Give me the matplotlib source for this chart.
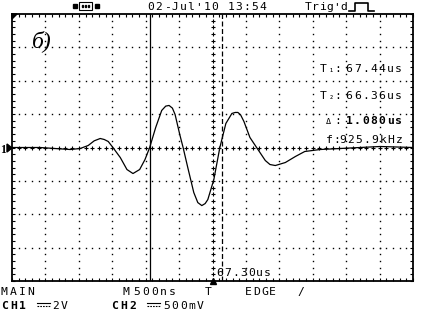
import matplotlib

matplotlib.use("Agg")
import matplotlib.pyplot as plt
import numpy as np
from matplotlib.lines import Line2D
from matplotlib.patches import Polygon, Rectangle

W, H = 427, 313

# scope settings
t_center = 67.30      # us, trigger position (centre of screen)
t_div = 0.5           # us / div  (M 500ns)
v_div = 2.0           # V / div   (CH1 2V)
n_xdiv, n_ydiv = 12, 8

cursor_t1 = 67.44
cursor_t2 = 66.36

# CH1 trace
t_us = [64.30, 64.72, 64.94, 65.17, 65.32, 65.44, 65.53, 65.62, 65.68, 65.74,
        65.81, 65.92, 66.02, 66.11, 66.21, 66.29, 66.36, 66.45, 66.54, 66.60,
        66.65, 66.70, 66.74, 66.81, 66.86, 66.93, 67.02, 67.08, 67.14, 67.19,
        67.23, 67.32, 67.41, 67.50, 67.59, 67.64, 67.68, 67.72, 67.77, 67.86,
        67.98, 68.09, 68.16, 68.24, 68.39, 68.54, 68.68, 68.91, 69.21, 69.51,
        69.81, 70.30]
ch1_v = [0.00, 0.00, -0.06, -0.12, -0.06, 0.12, 0.40, 0.54, 0.48, 0.36,
         0.00, -0.60, -1.32, -1.56, -1.32, -0.72, 0.00, 1.20, 2.22, 2.48,
         2.52, 2.36, 1.98, 0.78, 0.00, -1.20, -2.70, -3.30, -3.48, -3.36,
         -3.12, -1.92, 0.00, 1.44, 2.04, 2.10, 2.10, 1.96, 1.56, 0.60,
         -0.12, -0.78, -1.02, -1.08, -0.90, -0.54, -0.24, -0.12, -0.06, 0.00,
         0.06, 0.00]

MONO = ["DejaVu Sans Mono", "DejaVu Sans"]
FS = 8.2

fig = plt.figure(figsize=(W / 100, H / 100), dpi=100)
fig.patch.set_facecolor("white")


def fx(x):
    return x / W


def fy(y):
    return 1 - y / H


def mono(x, base, s, pitch=8.0, size=FS, weight="normal"):
    # bitmap-like fixed pitch text, one cell per character
    for i, ch in enumerate(s):
        fig.text(fx(x + i * pitch + pitch / 2), fy(base), ch, ha="center",
                 va="baseline", fontsize=size, family=MONO, weight=weight)


def px_line(xs, ys, **kw):
    fig.add_artist(Line2D([fx(v) for v in xs], [fy(v) for v in ys],
                          transform=fig.transFigure, color="black", **kw))


def px_poly(pts, **kw):
    fig.add_artist(Polygon([(fx(a), fy(b)) for a, b in pts], closed=True,
                           transform=fig.transFigure, **kw))


# screen
sx0, sx1, sy0, sy1 = 12, 413, 14, 281
ax = fig.add_axes([fx(sx0), fy(sy1), (sx1 - sx0) / W, (sy1 - sy0) / H])
tmin = t_center - n_xdiv / 2 * t_div
tmax = t_center + n_xdiv / 2 * t_div
vmax = n_ydiv / 2 * v_div
ax.set_xlim(tmin, tmax)
ax.set_ylim(-vmax, vmax)
for sp in ax.spines.values():
    sp.set_linewidth(1.3)

# small ticks along the border every 1/5 div
ax.set_xticks(np.linspace(tmin, tmax, n_xdiv * 5 + 1))
ax.set_yticks(np.linspace(-vmax, vmax, n_ydiv * 5 + 1))
ax.tick_params(direction="in", length=2, width=0.8, top=True, right=True,
               labelbottom=False, labelleft=False)

# dotted graticule
sub_t = np.linspace(tmin, tmax, n_xdiv * 5 + 1)[1:-1]
sub_v = np.linspace(-vmax, vmax, n_ydiv * 5 + 1)[1:-1]
for k in range(1, n_xdiv):
    if k == n_xdiv // 2:
        continue
    t = tmin + k * t_div
    ax.plot(np.full(len(sub_v), t), sub_v, ls="none", marker="s", ms=1.0,
            mew=0, color="black")
for k in range(1, n_ydiv):
    if k == n_ydiv // 2:
        continue
    v = -vmax + k * v_div
    ax.plot(sub_t, np.full(len(sub_t), v), ls="none", marker="s", ms=1.0,
            mew=0, color="black")
# centre cross with ticks
ax.plot(np.full(len(sub_v), t_center), sub_v, ls="none", marker="+", ms=3,
        mew=0.8, color="black")
ax.plot(sub_t, np.zeros(len(sub_t)), ls="none", marker="+", ms=3, mew=0.8,
        color="black")

# cursors
ax.axvline(cursor_t2, color="black", lw=0.9)
ax.axvline(cursor_t1, color="black", lw=0.9, ls=(0, (4, 2)))

# trace
ax.plot(t_us, ch1_v, color="black", lw=0.9)

# trigger marker
ax.plot(t_center, -vmax, marker="^", ms=5, color="black", clip_on=False)

# corner marker and channel 1 ground marker
px_poly([(12, 14), (17, 14), (12, 19)], color="black")
px_poly([(7, 144), (12, 148), (7, 152)], color="black")
fig.text(fx(3.5), fy(152.5), "1", ha="center", va="baseline", fontsize=8.5,
         family="Liberation Serif", weight="bold")

# panel label
fig.text(fx(42), fy(41), "б)", ha="center", va="center", fontsize=17,
         family="Liberation Serif", style="italic")

# top bar
fig.add_artist(Rectangle((fx(73), fy(8)), 4 / W, 4 / H,
                         transform=fig.transFigure, color="black"))
fig.add_artist(Rectangle((fx(79), fy(10)), 13 / W, 8 / H,
                         transform=fig.transFigure, fill=False, lw=0.8,
                         edgecolor="black"))
for dx in (82, 85, 88):
    fig.add_artist(Rectangle((fx(dx), fy(7)), 1.5 / W, 1.5 / H,
                             transform=fig.transFigure, color="black"))
fig.add_artist(Rectangle((fx(95), fy(8)), 4 / W, 4 / H,
                         transform=fig.transFigure, color="black"))
mono(147, 10, "02-Jul'10 13:54", pitch=8.0)
mono(305, 10, "Trig'd", pitch=7.0)
px_line([349, 355, 355, 368, 368, 374], [11, 11, 3, 3, 11, 11], lw=1.2)

# cursor readouts
for base, sub, val in [(72, "₁", "67.44us"), (99, "₂", "66.36us")]:
    mono(319, base, "T")
    fig.text(fx(331.5), fy(base), sub, ha="center", va="baseline", fontsize=6,
             family=MONO)
    mono(335, base, ":", pitch=6)
    mono(345, base, val, pitch=8.2)
fig.text(fx(328), fy(124), "Δ", ha="center", va="baseline", fontsize=6,
         family=MONO)
mono(335, 124, ":", pitch=6)
mono(345, 124, "1.080us", pitch=8.2, weight="bold")
mono(326, 143, "f", pitch=7)
mono(334, 143, ":", pitch=5)
mono(339, 143, "925.9kHz", pitch=8.0)

mono(216, 276, "67.30us", pitch=7.9)

# bottom status lines
mono(0, 295, "MAIN", pitch=8.8)
mono(122, 295, "M", pitch=8.5)
mono(132, 295, "500ns", pitch=9.0)
mono(204, 295, "T")
mono(244, 295, "EDGE", pitch=8.2)
mono(297, 295, "/")
mono(0, 309, "CH1", pitch=9.0, weight="bold")
mono(51, 309, "2V", pitch=8.5)
mono(110, 309, "CH2", pitch=9.0, weight="bold")
mono(162, 309, "500mV", pitch=8.5)
for xs in (37, 147):
    px_line([xs, xs + 13], [303, 303], lw=0.8)
    px_line([xs, xs + 13], [306, 306], lw=0.8, ls=(0, (1.5, 1)))

fig.savefig("out.png", dpi=100, facecolor="white")
